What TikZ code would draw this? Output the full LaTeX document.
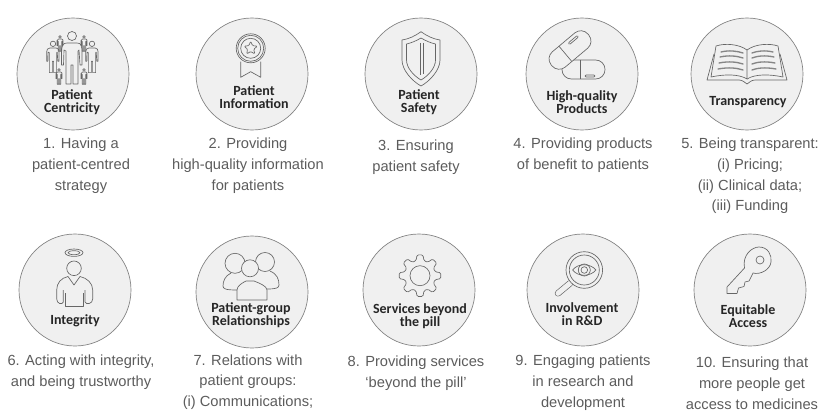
\documentclass[tikz,border=0pt]{standalone}
\usepackage{fontspec}
\setmainfont{Liberation Sans}
\newfontfamily\tagfont{Carlito}
\usepackage{tikz}

\definecolor{discfill}{gray}{0.94}
\definecolor{discedge}{gray}{0.5}
\definecolor{iconline}{gray}{0.4}
\definecolor{captgray}{gray}{0.36}

\tikzset{
  disc/.style={circle,draw=discedge,fill=discfill,line width=0.5pt,minimum size=84pt,inner sep=0pt},
  tag/.style={font=\tagfont\bfseries\fontsize{10.5}{9.6}\selectfont,align=center,text=black!85,inner sep=0pt},
  capt/.style={font=\fontsize{11}{15.6}\selectfont,align=center,text=captgray,inner sep=0pt},
  icon/.style={draw=iconline,line width=0.5pt,line join=round},
  iconfill/.style={icon,fill=discfill},
  bookline/.style={draw=iconline!80,line width=1pt,line cap=round}
}

% One figure of the crowd, top of the shoulders at the given point
\newcommand{\figperson}[3]{
\begin{scope}[shift={(#1,#2)},scale=#3]
\draw[icon] (0,-7) circle (4.5);
\draw[icon] (-5,0) -- (5,0) .. controls (9,0) and (10,3) .. (10,6) -- (10,22) -- (8,22) -- (7,7) -- (6,8) -- (6,41)
 -- (1,41) -- (1,22) -- (-1,22) -- (-1,41) -- (-6,41) -- (-6,8) -- (-8,7) -- (-8.5,22) -- (-10.5,22) -- (-10.5,6)
 .. controls (-10.5,3) and (-9,0) .. (-5,0) -- cycle;
\end{scope}
}

\begin{document}
\begin{tikzpicture}[x=0.75pt,y=-0.75pt]
\useasboundingbox (0,0) rectangle (830,410);

% Top row of discs
\node[disc] (disc1) at (73,74) {};
\node[disc] (disc2) at (252,74) {};
\node[disc] (disc3) at (421,74) {};
\node[disc] (disc4) at (582,74) {};
\node[disc] (disc5) at (747,74) {};

% Bottom row of discs
\node[disc] (disc6) at (75,290) {};
\node[disc] (disc7) at (252,292) {};
\node[disc] (disc8) at (419,290) {};
\node[disc] (disc9) at (583,290) {};
\node[disc] (disc10) at (750,290) {};

% Crowd
\begin{scope}[shift={(disc1.center)}]
\figperson{-1}{-31}{1}
\figperson{-20}{-26}{0.6}
\figperson{19}{-26}{0.6}
\figperson{-13}{-35}{0.3}
\figperson{11}{-35}{0.3}
\figperson{-14}{-2}{0.3}
\figperson{11}{-2}{0.3}
\end{scope}

% Medal
\begin{scope}[shift={(disc2.center)}]
\draw[icon] (-11.3,-12.3) -- (-11.3,3.3) -- (-1.3,-2.3) -- (8.7,3.3) -- (8.7,-12.3);
\draw[iconfill] (-1.3,-25.7) circle (14.5);
\draw[icon] (-1.3,-25.7) circle (13);
\draw[icon] (-1.3,-25.7) circle (10);
\begin{scope}[shift={(-1.3,-25.7)}]
\draw[icon,rounded corners=0.8pt] (-90:7) -- (-54:3.2) -- (-18:7) -- (18:3.2) -- (54:7) -- (90:3.2)
 -- (126:7) -- (162:3.2) -- (198:7) -- (234:3.2) -- cycle;
\end{scope}
\end{scope}

% Shield
\begin{scope}[shift={(disc3.center)}]
\draw[icon] (0,-42.3) .. controls (-6,-38) and (-12,-35) .. (-19,-34) -- (-19,-14) .. controls (-19,-4) and (-9,7) .. (0,12)
 .. controls (9,7) and (19,-4) .. (19,-14) -- (19,-34) .. controls (12,-35) and (6,-38) .. (0,-42.3) -- cycle;
\draw[icon] (0,-36) .. controls (-5,-33) and (-10,-31) .. (-14.5,-30) -- (-14.5,-14) .. controls (-14.5,-6) and (-7,2) .. (0,6)
 .. controls (7,2) and (14.5,-6) .. (14.5,-14) -- (14.5,-30) .. controls (10,-31) and (5,-33) .. (0,-36) -- cycle;
\draw[icon] (-1,-31) -- (-1,1) (2,-31) -- (2,0);
\end{scope}

% Capsules
\begin{scope}[shift={(disc4.center)}]
\draw[iconfill,rounded corners=7pt] (-20,-14) rectangle (23,5);
\draw[icon] (-1.3,-14) -- (-1.3,5);
\draw[icon,rounded corners=0.8pt] (3,1) rectangle (13,3);
\begin{scope}[shift={(-12,-24)},rotate=40]
\draw[iconfill,rounded corners=7pt] (-24,-10) rectangle (24,10);
\draw[icon] (-6,-10) -- (-6,10);
\draw[icon,rounded corners=0.8pt] (3,-6.5) rectangle (15,-4.5);
\end{scope}
\end{scope}

% Open book
\begin{scope}[shift={(disc5.center)}]
\draw[icon] (-33,-20) -- (-40,6) -- (-8,6) .. controls (-4,6) and (-2,9) .. (0,10) .. controls (2,9) and (4,6) .. (8,6) -- (40,6) -- (33,-20);
\draw[icon] (0,-24) .. controls (-8,-30) and (-22,-31) .. (-31,-28) -- (-36,3) .. controls (-22,0) and (-8,0) .. (0,5) -- cycle;
\draw[icon] (0,-24) .. controls (8,-30) and (22,-31) .. (31,-28) -- (36,3) .. controls (22,0) and (8,0) .. (0,5);
\draw[bookline] (-26,-22) .. controls (-18,-24) and (-10,-23) .. (-4,-21)
 (-27,-17) .. controls (-18,-19) and (-10,-18) .. (-4,-16)
 (-28,-11) .. controls (-18,-13) and (-10,-12) .. (-4,-10)
 (-29,-5) .. controls (-18,-7) and (-10,-6) .. (-4,-4);
\draw[bookline] (26,-22) .. controls (18,-24) and (10,-23) .. (5,-21)
 (27,-17) .. controls (18,-19) and (10,-18) .. (5,-16)
 (28,-11) .. controls (18,-13) and (10,-12) .. (5,-10)
 (29,-5) .. controls (18,-7) and (10,-6) .. (5,-4);
\end{scope}

% Figure with halo
\begin{scope}[shift={(disc6.center)}]
\draw[icon] (-1,-37.3) ellipse (9 and 3.7);
\draw[icon] (-1,-37.3) ellipse (6 and 2);
\draw[icon] (-1,-21.7) circle (7.3);
\draw[icon] (-7,-13.5) .. controls (-14,-12) and (-18.3,-7) .. (-18.3,0) -- (-18.3,9) .. controls (-18.3,14) and (-12.5,15) .. (-11.7,12) -- (-11.7,0);
\draw[icon] (5,-13.5) .. controls (12,-12) and (17.7,-7) .. (17.7,0) -- (17.7,9) .. controls (17.7,14) and (11,15) .. (10,12) -- (10,0);
\draw[icon] (-10,3) -- (-10,16.7) -- (8.3,16.7) -- (8.3,3);
\draw[icon] (-7,-13.5) -- (-1,-5) -- (5,-13.5);
\end{scope}

% Three people
\begin{scope}[shift={(disc7.center)}]
\draw[iconfill] (-17,-28.7) circle (10);
\draw[iconfill] (13,-30) circle (9.5);
\draw[icon] (-21,-19) .. controls (-27,-16) and (-29,-11) .. (-29,-6) .. controls (-29,-3) and (-26,-2) .. (-15,-2);
\draw[icon] (18,-21) .. controls (25,-18) and (27,-13) .. (27,-7) .. controls (27,-4) and (24,-3) .. (15,-3);
\draw[iconfill] (-15,8) -- (-15,-2) .. controls (-15,-6) and (-10,-9) .. (-6,-11) -- (2,-11) .. controls (7,-9) and (15,-6) .. (15,-2) -- (15,8) -- cycle;
\draw[iconfill] (-2,-23.7) circle (8.5);
\end{scope}

% Gear
\begin{scope}[shift={(disc8.center)}]
\begin{scope}[shift={(1,-14.3)}]
\draw[icon,rounded corners=1pt] (-15:15.5) -- (-8:21) -- (8:21) -- (15:15.5)
 -- (30:15.5) -- (37:21) -- (53:21) -- (60:15.5)
 -- (75:15.5) -- (82:21) -- (98:21) -- (105:15.5)
 -- (120:15.5) -- (127:21) -- (143:21) -- (150:15.5)
 -- (165:15.5) -- (172:21) -- (188:21) -- (195:15.5)
 -- (210:15.5) -- (217:21) -- (233:21) -- (240:15.5)
 -- (255:15.5) -- (262:21) -- (278:21) -- (285:15.5)
 -- (300:15.5) -- (307:21) -- (323:21) -- (330:15.5) -- cycle;
\draw[icon] (0,0) circle (10);
\end{scope}
\end{scope}

% Magnifier with eye
\begin{scope}[shift={(disc9.center)}]
\draw[iconline,line width=4.8pt,line cap=round] (-13,-6.7) -- (-25,3.3);
\draw[discfill,line width=3.8pt,line cap=round] (-13,-6.7) -- (-25,3.3);
\draw[iconfill] (1.3,-20) circle (18.3);
\draw[icon] (1.3,-20) circle (15);
\draw[icon] (-10.4,-20) .. controls (-5,-27) and (7,-27) .. (13,-20) .. controls (7,-13) and (-5,-13) .. (-10.4,-20) -- cycle;
\draw[icon] (1.3,-20) circle (6);
\draw[icon] (1.3,-20) circle (3.3);
\end{scope}

% Key
\begin{scope}[shift={(disc10.center)}]
\draw[icon] (-23,-3) -- (-5.5,-22) .. controls (-8,-35) and (2,-43) .. (9,-43) .. controls (18,-43) and (22,-35) .. (21,-28)
 .. controls (20,-20) and (10,-15) .. (3,-17) -- (-1,-9) -- (-5,-8) -- (-6,-3.5) -- (-11.5,-2) -- (-13,3.5) -- (-23,3.5) -- cycle;
\draw[icon] (10,-30) circle (4);
\end{scope}

% Labels inside the discs
\node[tag] (tag1) at (72,102) {Patient\\Centricity};
\node[tag] (tag2) at (254,97) {Patient\\Information};
\node[tag] (tag3) at (419,102) {Patient\\Safety};
\node[tag] (tag4) at (582,102) {High-quality\\Products};
\node[tag] (tag5) at (748,102) {Transparency};
\node[tag] (tag6) at (75,321) {Integrity};
\node[tag] (tag7) at (251,315) {Patient-group\\Relationships};
\node[tag] (tag8) at (420,316) {Services beyond\\the pill};
\node[tag] (tag9) at (582,314) {Involvement\\in R\&D};
\node[tag] (tag10) at (748,316) {Equitable\\Access};

% Captions under the discs
\node[capt] (capt1) at (81,166) {1. Having a\\patient-centred\\strategy};
\node[capt] (capt2) at (248,166) {2. Providing\\high-quality information\\for patients};
\node[capt] (capt3) at (416,157) {3. Ensuring\\patient safety};
\node[capt] (capt4) at (583,155) {4. Providing products\\of benefit to patients};
\node[capt] (capt5) at (750,176) {5. Being transparent:\\(i) Pricing;\\(ii) Clinical data;\\(iii) Funding};
\node[capt] (capt6) at (81,372) {6. Acting with integrity,\\and being trustworthy};
\node[capt] (capt7) at (248,382) {7. Relations with\\patient groups:\\(i) Communications;};
\node[capt] (capt8) at (416,373) {8. Providing services\\`beyond the pill'};
\node[capt] (capt9) at (583,383) {9. Engaging patients\\in research and\\development};
\node[capt] (capt10) at (752,383) {10. Ensuring that\\more people get\\access to medicines};

\end{tikzpicture}
\end{document}
